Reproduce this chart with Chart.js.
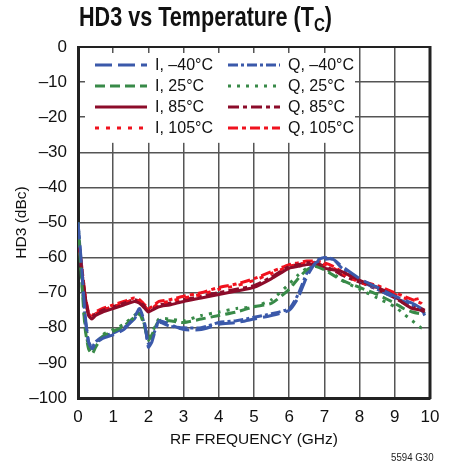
<!DOCTYPE html>
<html>
<head>
<meta charset="utf-8">
<script src="https://cdn.jsdelivr.net/npm/chart.js@4.4.1/dist/chart.umd.min.js"></script>
<style>
  body { margin: 0; background: #fff; }
  #wrap { position: relative; width: 453px; height: 467px; }
  #titulo { position: absolute; left: 79px; top: 2px; font: bold 27px 'Liberation Sans', sans-serif; color: #111; white-space: nowrap; transform: scaleX(0.8); transform-origin: 0 0; }
  #titulo sub { font-size: 19px; vertical-align: -5px; }
  #nota { position: absolute; left: 391px; top: 451px; font: 11px 'Liberation Sans', sans-serif; color: #222; transform: scaleX(0.88); transform-origin: 0 0; }
</style>
</head>
<body>
<div id="wrap">
  <canvas id="grafico" width="453" height="467"></canvas>
  <div id="titulo">HD3 vs Temperature (T<sub>C</sub>)</div>
  <div id="nota">5594 G30</div>
</div>
<script>
// frecuencias (GHz) y valores HD3 (dBc)
var frecuencias = [0, 0.1, 0.2, 0.3, 0.4, 0.5, 0.7, 1, 1.3, 1.6, 1.75, 1.9, 2, 2.1, 2.3, 2.6, 3, 3.5, 4, 4.5, 5, 5.5, 6, 6.25, 6.5, 6.75, 7, 7.25, 7.5, 8, 8.5, 9, 9.25, 9.5, 9.75, 9.85];

var iMenos40 = [-50, -62, -76, -84, -86, -84.5, -83, -82, -80.5, -77, -74.5, -79, -85.5, -84, -78, -79, -80.5, -80.5, -79, -78.5, -77.5, -76.5, -75, -71.5, -65.5, -61.5, -60.5, -60.5, -62.5, -66, -68.5, -71, -72, -73, -74.5, -76.5];
var i25 = [-50, -66, -80, -86, -87.5, -85.5, -82.5, -81, -79.5, -77, -76, -80, -83.5, -82, -78, -78, -78.5, -77.5, -76.5, -75.5, -74, -73, -69, -66, -63.5, -62.5, -63.5, -65, -66.5, -68.5, -70.5, -73, -74.5, -75.5, -76, -76];
var i85 = [-54, -63, -71, -76.5, -77.5, -76.5, -75.5, -74.5, -73.5, -72.5, -73, -74.5, -75.5, -75, -74, -73.5, -72.5, -71.5, -70.5, -69.5, -68.5, -66, -63, -62.5, -62, -62, -63, -63.5, -64, -66.5, -68.5, -71, -73, -74.5, -75, -75.5];
var i105 = [-54, -62, -70.5, -76, -77, -76, -75, -74, -73, -72, -72.5, -74, -75, -74.5, -73, -72.5, -71.5, -70.5, -69, -68, -66.5, -64.5, -62.5, -62, -61.5, -61.5, -62, -63, -64.5, -67, -68.5, -70.5, -71.5, -72, -71.5, -71];
var qMenos40 = [-50, -63, -77, -84, -85.5, -84, -82.5, -81.5, -80, -77.5, -75, -79.5, -84.5, -83, -78.5, -79.5, -80, -80, -78.5, -78, -77, -76, -74.5, -70.5, -64.5, -61, -60, -60.5, -63, -66.5, -69, -71.5, -72.5, -73.5, -75, -76];
var q25 = [-50, -65, -79, -85.5, -87, -85, -82, -80.5, -79, -76.5, -75.5, -79.5, -83, -81.5, -77.5, -77.5, -78, -76.5, -75.5, -74.5, -74, -72, -67.5, -65, -63, -62, -63, -64.5, -66.5, -69, -71.5, -74, -76, -78, -80, -80];
var q85 = [-54, -63, -71, -76, -77, -76, -75, -74, -73, -72, -72.5, -74, -75, -74.5, -73.5, -73, -72, -71, -70, -69, -68, -65.5, -62.5, -62, -61.5, -61.5, -62.5, -63.5, -65, -67, -69, -71.5, -73, -74, -74.5, -75];
var q105 = [-54, -62, -70.5, -75.5, -76.5, -75.5, -74.5, -73.5, -72.5, -71.5, -72, -73.5, -74.5, -74, -72.5, -72, -71, -70, -68.5, -67.5, -66, -64, -62, -61.5, -61, -61, -61.5, -62.5, -64, -66.5, -68, -70, -71, -72, -73, -74];

var etiquetas = ['I, \u201340\u00B0C', 'I, 25\u00B0C', 'I, 85\u00B0C', 'I, 105\u00B0C', 'Q, \u201340\u00B0C', 'Q, 25\u00B0C', 'Q, 85\u00B0C', 'Q, 105\u00B0C'];

var AZUL = 'rgb(59, 89, 170)';
var VERDE = 'rgb(56, 138, 72)';
var GUINDA = 'rgb(140, 12, 42)';
var ROJO = 'rgb(240, 18, 30)';
var FUENTE = 'Liberation Sans';

function puntos(valores) {
    var lista = [];
    valores.forEach(function (v, i) {
        lista.push({x: frecuencias[i], y: v});
    });
    return lista;
}

function serie(label, valores, color, dash) {
    return {
        label: label,
        data: puntos(valores),
        borderColor: color,
        borderWidth: 3,
        borderDash: dash,
        pointRadius: 0,
        fill: false,
        tension: 0.2
    };
}

// caja de leyenda dentro del area de la grafica
var leyendaInterna = {
    id: 'leyendaInterna',
    beforeDatasetsDraw: function (chart) {
        var ctx = chart.ctx, a = chart.chartArea;
        var x = chart.scales.x, y = chart.scales.y;
        var l = a.left + 7, t = a.top + 6;
        var r = x.getPixelForValue(7.87), b = y.getPixelForValue(-27.3);
        ctx.save();
        ctx.fillStyle = '#fff';
        ctx.fillRect(l, t, r - l, b - t);
        ctx.restore();
    },
    afterDraw: function (chart) {
        var ctx = chart.ctx, a = chart.chartArea;
        ctx.save();
        // marco superior y derecho
        ctx.strokeStyle = '#222';
        ctx.lineWidth = 2;
        ctx.beginPath();
        ctx.moveTo(a.left, a.top);
        ctx.lineTo(a.right, a.top);
        ctx.stroke();
        ctx.lineWidth = 3;
        ctx.beginPath();
        ctx.moveTo(a.right, a.top - 1);
        ctx.lineTo(a.right, a.bottom + 1);
        ctx.stroke();

        ctx.font = '16px "' + FUENTE + '", sans-serif';
        ctx.textBaseline = 'middle';
        ctx.fillStyle = '#111';
        chart.data.datasets.forEach(function (ds, i) {
            var col = Math.floor(i / 4), fila = i % 4;
            var x0 = a.left + (col === 0 ? 17 : 150);
            var yy = a.top + 18 + fila * 21;
            ctx.strokeStyle = ds.borderColor;
            ctx.lineWidth = 3;
            ctx.setLineDash(ds.borderDash || []);
            ctx.beginPath();
            ctx.moveTo(x0, yy);
            ctx.lineTo(x0 + 52, yy);
            ctx.stroke();
            ctx.setLineDash([]);
            ctx.fillText(ds.label, x0 + 60, yy + 1);
        });
        ctx.restore();
    }
};

var ctx = document.getElementById('grafico').getContext('2d');
new Chart(ctx, {
    type: 'line',
    data: {
        datasets: [
            serie(etiquetas[0], iMenos40, AZUL, [17, 6]),
            serie(etiquetas[1], i25, VERDE, [10, 5]),
            serie(etiquetas[2], i85, GUINDA, []),
            serie(etiquetas[3], i105, ROJO, [4, 7]),
            serie(etiquetas[4], qMenos40, AZUL, [10, 3, 3, 3]),
            serie(etiquetas[5], q25, VERDE, [3, 6]),
            serie(etiquetas[6], q85, GUINDA, [11, 4, 4, 4]),
            serie(etiquetas[7], q105, ROJO, [10, 4, 4, 4])
        ]
    },
    options: {
        responsive: false,
        animation: false,
        layout: {padding: {top: 47, right: 23, left: 0, bottom: 0}},
        plugins: {
            legend: {display: false},
            tooltip: {enabled: false}
        },
        scales: {
            x: {
                type: 'linear',
                min: 0,
                max: 10,
                afterFit: function (s) { s.height = 69; },
                ticks: {stepSize: 1, padding: 9, color: '#111', font: {family: FUENTE, size: 17}},
                grid: {color: '#555', lineWidth: 1.5, drawTicks: false},
                border: {color: '#222', width: 3},
                title: {display: true, text: 'RF FREQUENCY (GHz)', color: '#111', font: {family: FUENTE, size: 15.5}, padding: {top: 0, bottom: 18}}
            },
            y: {
                min: -100,
                max: 0,
                afterFit: function (s) { s.width = 78; },
                ticks: {
                    stepSize: 10,
                    padding: 11,
                    color: '#111',
                    font: {family: FUENTE, size: 17},
                    callback: function (v) { return v === 0 ? '0' : '\u2013' + Math.abs(v); }
                },
                grid: {color: '#555', lineWidth: 1.5, drawTicks: false},
                border: {color: '#222', width: 3},
                title: {display: true, text: 'HD3 (dBc)', color: '#111', font: {family: FUENTE, size: 15.5}, padding: {top: 12, bottom: 0}}
            }
        }
    },
    plugins: [leyendaInterna]
});
</script>
</body>
</html>
